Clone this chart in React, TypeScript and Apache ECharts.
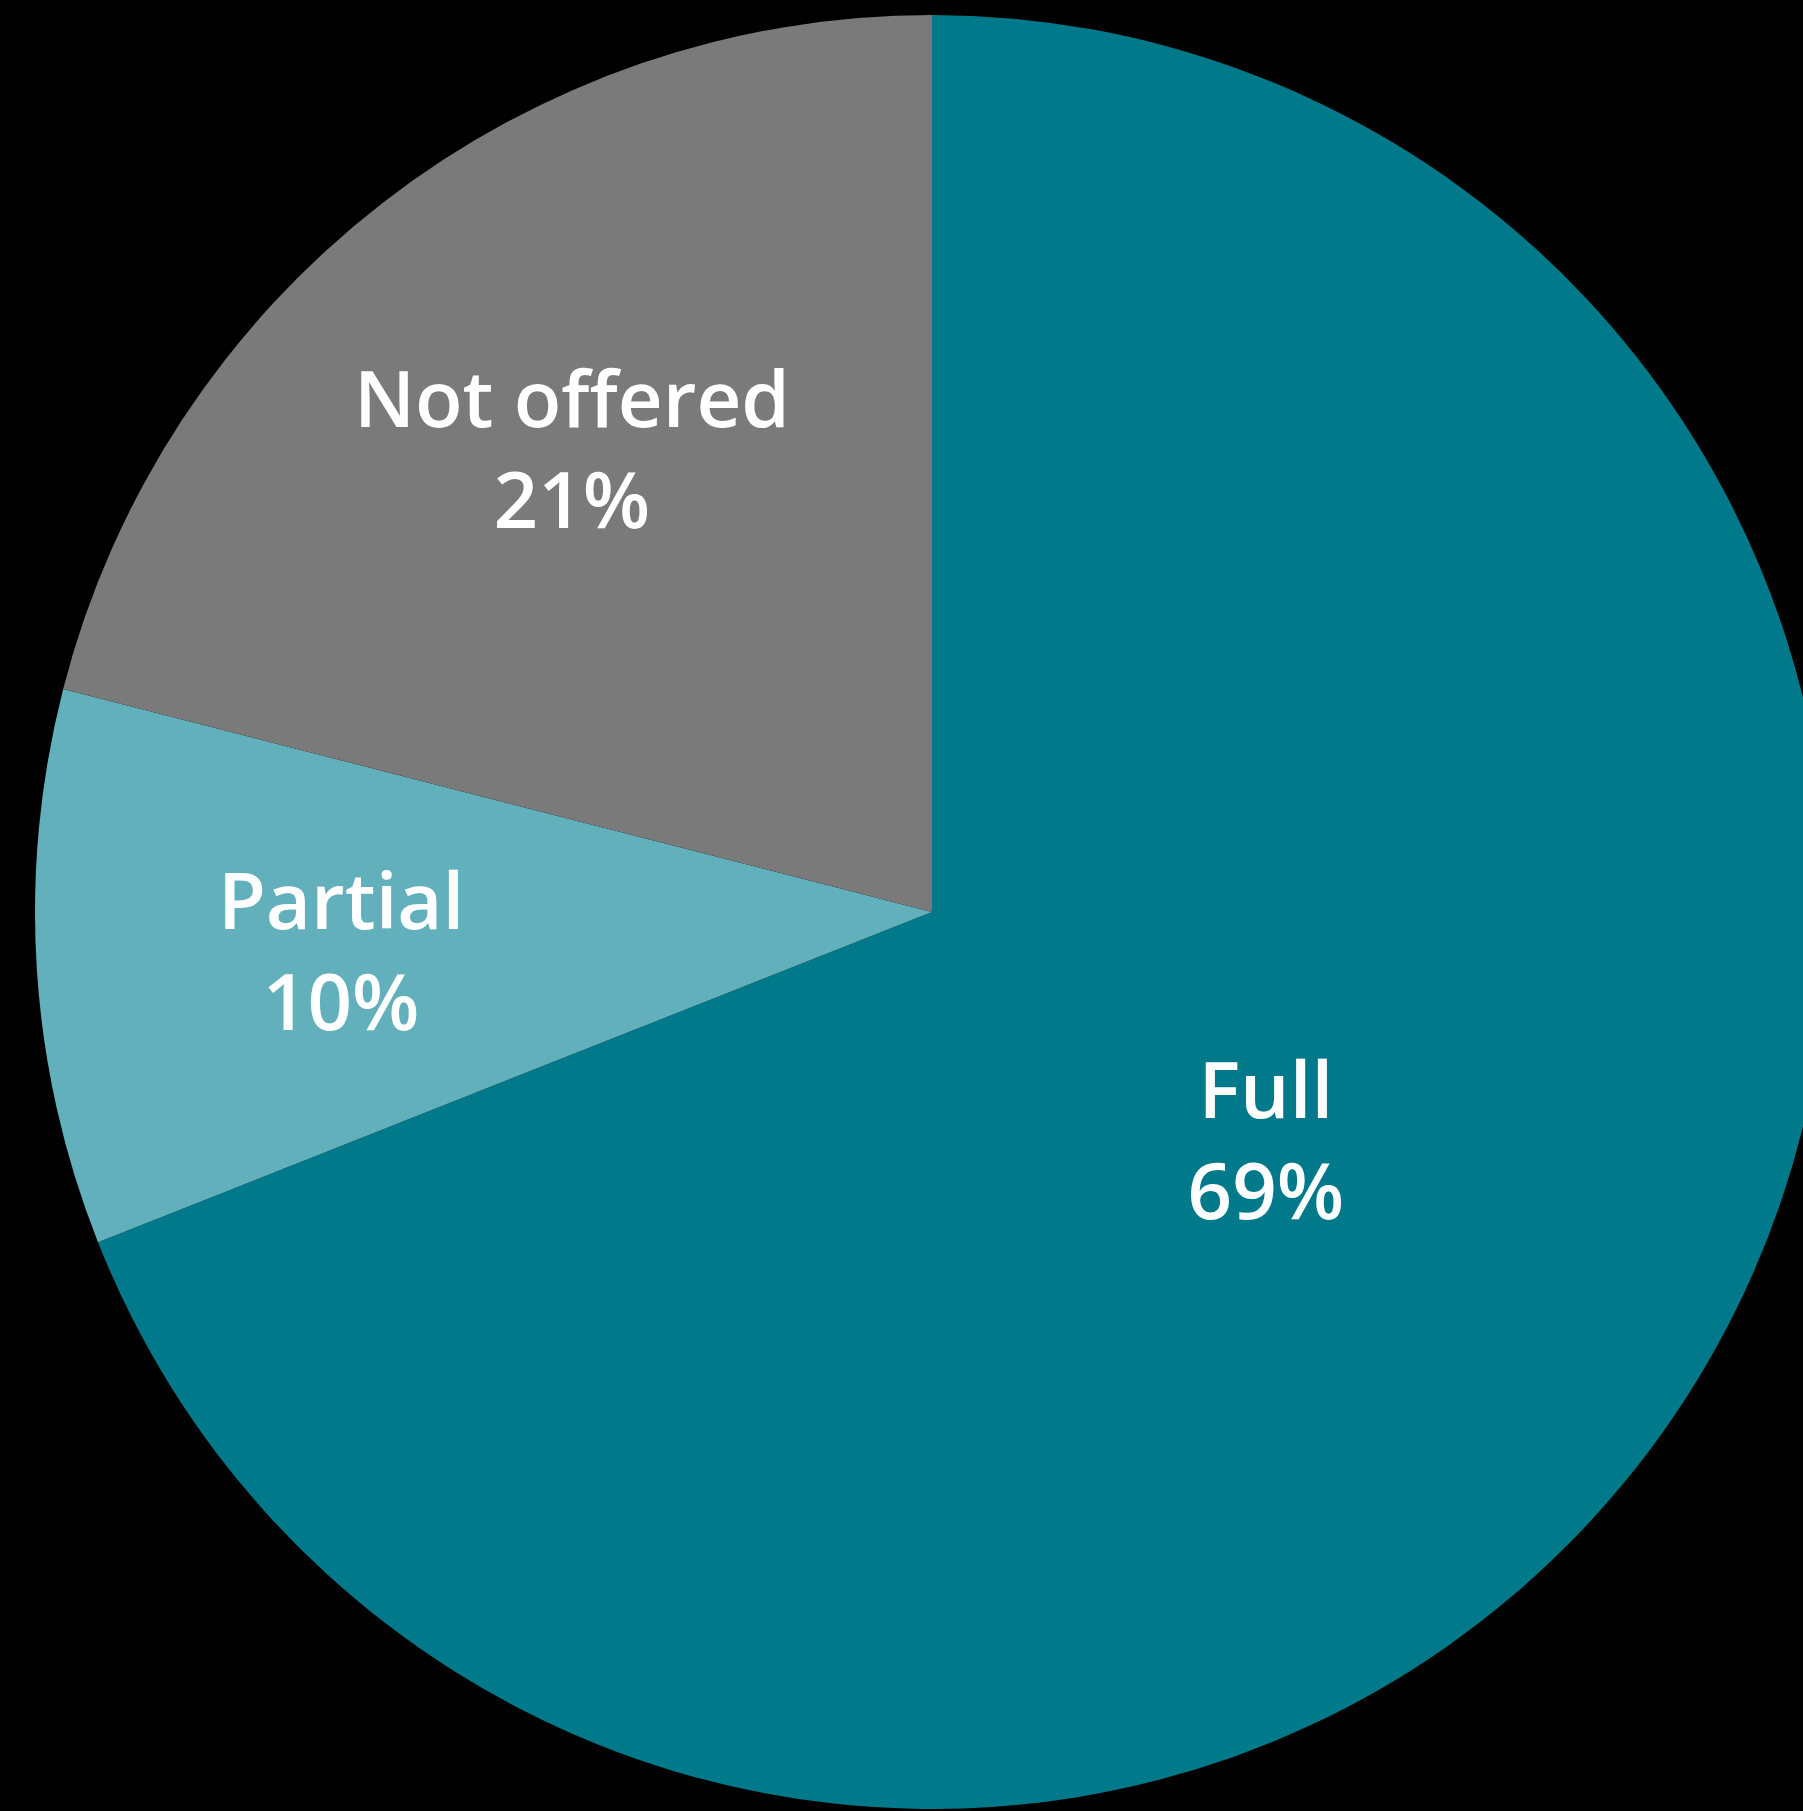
import React, { useEffect, useRef } from "react";
import * as echarts from "echarts";

const categories = ["Full", "Partial", "Not offered"];
const values = [69, 10, 21];
const colors = ["#007a8a", "#63b0bd", "#7a7a7a"];
// label distance from centre, as fraction of radius (style)
const labelRadiusRatio = [0.45, 0.66, 0.655];

const CENTER: [number, number] = [932, 912];
const RADIUS = 897;

export default function App() {
  const ref = useRef<HTMLDivElement>(null);
  useEffect(() => {
    document.body.style.margin = "0";
    document.body.style.background = "#000";
    if (!ref.current) return;
    const chart = echarts.init(ref.current, null, { renderer: "svg" });
    const total = values.reduce((a, b) => a + b, 0);
    const cum: number[] = [];
    let acc = 0;
    values.forEach((v) => {
      cum.push(acc + v / 2);
      acc += v;
    });
    chart.setOption({
      animation: false,
      backgroundColor: "#000",
      series: [
        {
          type: "pie",
          center: CENTER,
          radius: [0, RADIUS],
          startAngle: 90,
          clockwise: true,
          silent: true,
          data: categories.map((name, i) => ({
            name,
            value: values[i],
            itemStyle: { color: colors[i] },
          })),
          label: {
            show: true,
            position: "inside",
            formatter: (p: any) => `${p.name}\n${p.value}%`,
            color: "#fff",
            fontFamily: "Open Sans",
            fontWeight: 600,
            fontSize: 78,
            lineHeight: 101,
            align: "center",
          },
          labelLine: { show: false },
          labelLayout: (params: any) => {
            const i = params.dataIndex;
            const ang = (Math.PI / 2) - (cum[i] / total) * Math.PI * 2;
            const r = RADIUS * labelRadiusRatio[i];
            return {
              x: CENTER[0] + r * Math.cos(ang),
              y: CENTER[1] - r * Math.sin(ang),
              align: "center",
              verticalAlign: "middle",
            };
          },
        },
      ],
    });
    return () => chart.dispose();
  }, []);
  return <div ref={ref} style={{ width: 1803, height: 1811 }} />;
}
